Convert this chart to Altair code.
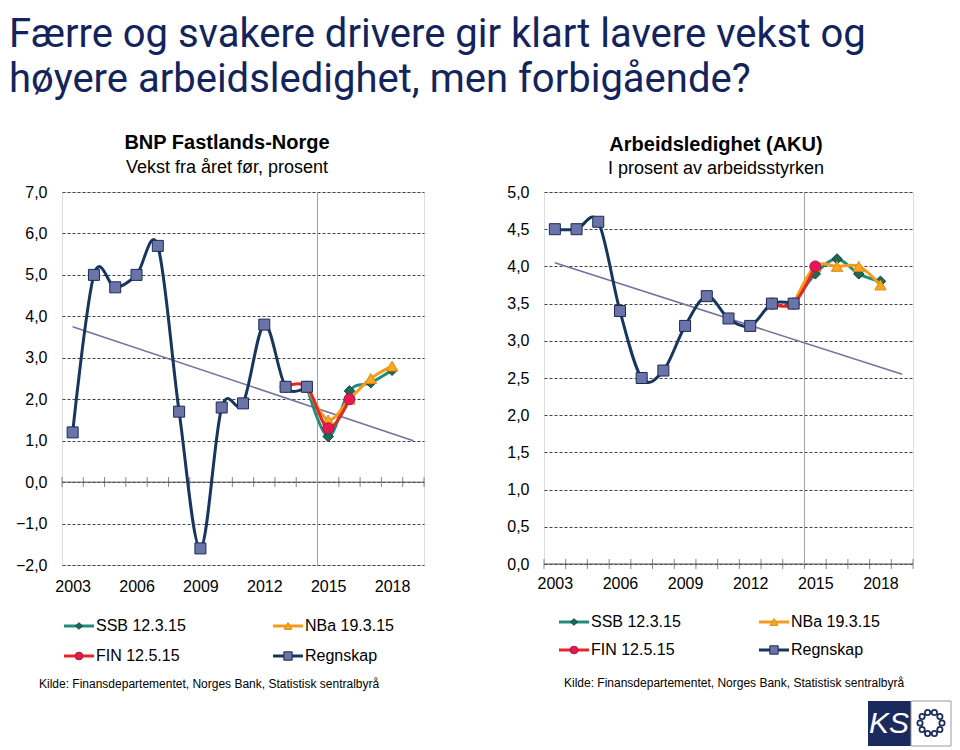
import math
import altair as alt
import pandas as pd

# ---------------- data ----------------
years_hist = [2003, 2004, 2005, 2006, 2007, 2008, 2009, 2010, 2011, 2012, 2013, 2014]
bnp_regnskap = [1.2, 5.0, 4.7, 5.0, 5.7, 1.7, -1.6, 1.8, 1.9, 3.8, 2.3, 2.3]
aku_regnskap = [4.5, 4.5, 4.6, 3.4, 2.5, 2.6, 3.2, 3.6, 3.3, 3.2, 3.5, 3.5]

years_ssb = [2014, 2015, 2016, 2017, 2018]
bnp_ssb = [2.3, 1.1, 2.2, 2.4, 2.7]
aku_ssb = [3.5, 3.9, 4.1, 3.9, 3.8]

years_nba = [2014, 2015, 2016, 2017, 2018]
bnp_nba = [2.3, 1.5, 2.0, 2.5, 2.8]
aku_nba = [3.5, 4.0, 4.0, 4.0, 3.75]

years_fin = [2013, 2014, 2015, 2016]
bnp_fin = [2.3, 2.3, 1.3, 2.0]
years_fin_aku = [2013, 2014, 2015]
aku_fin = [3.5, 3.5, 4.0]

trend_years = [2003, 2019]
bnp_trend = [3.75, 1.0]
aku_trend = [4.05, 2.55]

x_label_years = [2003, 2006, 2009, 2012, 2015, 2018]
bnp_ticks = [-2, -1, 0, 1, 2, 3, 4, 5, 6, 7]
aku_ticks = [0, 0.5, 1.0, 1.5, 2.0, 2.5, 3.0, 3.5, 4.0, 4.5, 5.0]

main_title = ["Færre og svakere drivere gir klart lavere vekst og",
              "høyere arbeidsledighet, men forbigående?"]
legend_labels = ["SSB 12.3.15", "NBa 19.3.15", "FIN 12.5.15", "Regnskap"]
source_text = "Kilde: Finansdepartementet,  Norges Bank, Statistisk sentralbyrå"

# ---------------- styles ----------------
FONT = "Liberation Sans"
C_REG, C_REG_FILL, C_REG_STROKE = "#17365d", "#6b74a8", "#1a2b55"
C_SSB, C_SSB_FILL, C_SSB_STROKE = "#1f8c7c", "#1e6a52", "#123d30"
C_NBA, C_NBA_FILL, C_NBA_STROKE = "#f59b1c", "#f7a81e", "#e08a10"
C_FIN, C_FIN_FILL, C_FIN_STROKE = "#e82424", "#e8174c", "#9e1a5a"
C_TREND = "#7272a0"
C_TITLE = "#13245c"

XDOM = [2002.5, 2019.5]
one_row = pd.DataFrame({"k": [0]})


def xaxis(pad):
    return alt.Axis(values=x_label_years, format="d", grid=False, domain=False,
                    ticks=False, labelFontSize=16, labelPadding=pad,
                    labelColor="black", labelFont=FONT, title=None)


def yaxis(ticks):
    return alt.Axis(values=ticks, labelExpr="replace(format(datum.value, '.1f'), '.', ',')",
                    grid=True, gridDash=[3, 2], gridColor="#444", gridWidth=1,
                    domain=False, ticks=False, labelPadding=15, labelFontSize=16,
                    labelColor="black", labelFont=FONT, title=None)


def panel(series, ydom, yticks, width, height, xpad, heads, leg, src_pos, extra=None):
    xs = alt.Scale(domain=XDOM, nice=False, zero=False)
    ys = alt.Scale(domain=ydom, nice=False, zero=False)
    X = alt.X("year:Q", scale=xs, axis=xaxis(xpad))
    Y = alt.Y("value:Q", scale=ys, axis=yaxis(yticks))
    layers = []

    # zero axis line with category tick marks
    layers.append(alt.Chart(one_row).mark_rule(color="#555", strokeWidth=1).encode(
        x=alt.XDatum(XDOM[0], type="quantitative", scale=xs, axis=xaxis(xpad)),
        x2=alt.X2Datum(XDOM[1]),
        y=alt.YDatum(0, type="quantitative", scale=ys, axis=yaxis(yticks))))
    bounds = pd.DataFrame({"year": [XDOM[0] + i for i in range(18)], "value": 0})
    layers.append(alt.Chart(bounds).mark_tick(orient="vertical", size=10, thickness=1,
                                              color="#555").encode(x=X, y=Y))
    # forecast divider
    layers.append(alt.Chart(one_row).mark_rule(color="#a0a0a0", strokeWidth=1).encode(
        x=alt.XDatum(2014.5, type="quantitative", scale=xs, axis=xaxis(xpad))))

    # trend
    tr = pd.DataFrame({"year": trend_years, "value": series["trend"]})
    layers.append(alt.Chart(tr).mark_line(color=C_TREND, strokeWidth=1.5).encode(x=X, y=Y))

    specs = [
        ("ssb", C_SSB, C_SSB_FILL, C_SSB_STROKE, "diamond", 110),
        ("nba", C_NBA, C_NBA_FILL, C_NBA_STROKE, "triangle-up", 130),
        ("fin", C_FIN, C_FIN_FILL, C_FIN_STROKE, "circle", 120),
        ("reg", C_REG, C_REG_FILL, C_REG_STROKE, "square", 121),
    ]
    for key, lc, fc, sc, shape, size in specs:
        yrs, vals = series[key]
        df = pd.DataFrame({"year": yrs, "value": vals})
        layers.append(alt.Chart(df).mark_line(color=lc, strokeWidth=3,
                                              interpolate="cardinal").encode(x=X, y=Y))
        layers.append(alt.Chart(df).mark_point(shape=shape, size=size, filled=True,
                                               fill=fc, stroke=sc, strokeWidth=1,
                                               opacity=1).encode(x=X, y=Y))

    # panel headings
    (hx, hy1, hy2, t1, t2) = heads
    layers.append(alt.Chart(one_row).mark_text(font=FONT, fontSize=20, fontWeight="bold",
                                               color="black", align="center",
                                               baseline="alphabetic").encode(
        x=alt.value(hx), y=alt.value(hy1), text=alt.value(t1)))
    layers.append(alt.Chart(one_row).mark_text(font=FONT, fontSize=18, color="black",
                                               align="center", baseline="alphabetic").encode(
        x=alt.value(hx), y=alt.value(hy2), text=alt.value(t2)))

    # legend
    (c1, c2, r1, r2, sw) = leg
    items = [
        (legend_labels[0], c1, r1, C_SSB, C_SSB_FILL, C_SSB_STROKE, "diamond", 45),
        (legend_labels[1], c2, r1, C_NBA, C_NBA_FILL, C_NBA_STROKE, "triangle-up", 60),
        (legend_labels[2], c1, r2, C_FIN, C_FIN_FILL, C_FIN_STROKE, "circle", 60),
        (legend_labels[3], c2, r2, C_REG, C_REG_FILL, C_REG_STROKE, "square", 70),
    ]
    for lab, cx, cy, lc, fc, sc, shape, size in items:
        layers.append(alt.Chart(one_row).mark_rule(color=lc, strokeWidth=3).encode(
            x=alt.value(cx), x2=alt.value(cx + sw), y=alt.value(cy)))
        layers.append(alt.Chart(one_row).mark_point(shape=shape, size=size, filled=True,
                                                    fill=fc, stroke=sc, strokeWidth=1,
                                                    opacity=1).encode(
            x=alt.value(cx + sw / 2), y=alt.value(cy)))
        layers.append(alt.Chart(one_row).mark_text(font=FONT, fontSize=16, color="black",
                                                   align="left", baseline="middle").encode(
            x=alt.value(cx + sw + 2), y=alt.value(cy), text=alt.value(lab)))
    sx, sy = src_pos
    layers.append(alt.Chart(one_row).mark_text(font=FONT, fontSize=12, color="black",
                                               align="left", baseline="middle").encode(
        x=alt.value(sx), y=alt.value(sy), text=alt.value(source_text)))

    if extra:
        layers.extend(extra)
    return alt.layer(*layers).properties(width=width, height=height)


# main title (placed in the left panel, above the plot)
title_layers = []
for i, line in enumerate(main_title):
    title_layers.append(alt.Chart(one_row).mark_text(font="Roboto", fontSize=40, color=C_TITLE,
                                                     align="left", baseline="alphabetic").encode(
        x=alt.value(-53), y=alt.value(-145 + 45 * i), text=alt.value(line)))

# KS logo (right panel, bottom right)
logo = []
logo.append(alt.Chart(one_row).mark_rect(color="#1b2a5c").encode(
    x=alt.value(324), x2=alt.value(367), y=alt.value(509), y2=alt.value(554)))
logo.append(alt.Chart(one_row).mark_rect(fill="white", stroke="#9a9a9a", strokeWidth=1).encode(
    x=alt.value(367), x2=alt.value(407), y=alt.value(509), y2=alt.value(554)))
logo.append(alt.Chart(one_row).mark_text(font="Liberation Sans", fontSize=30, fontStyle="italic",
                                         color="white", align="center", baseline="middle").encode(
    x=alt.value(345), y=alt.value(532), text=alt.value("KS")))
for i in range(10):
    a = 2 * math.pi * i / 10
    logo.append(alt.Chart(one_row).mark_point(shape="circle", size=28, filled=False,
                                              stroke="#1b2a5c", strokeWidth=1.8, opacity=1).encode(
        x=alt.value(387 + 11 * math.cos(a)), y=alt.value(531 + 11 * math.sin(a))))

left = panel(
    {"trend": bnp_trend, "ssb": (years_ssb, bnp_ssb), "nba": (years_nba, bnp_nba),
     "fin": (years_fin, bnp_fin), "reg": (years_hist, bnp_regnskap)},
    [-2, 7], bnp_ticks, 362, 373, 13,
    (165, -43, -19, "BNP Fastlands-Norge", "Vekst fra året før, prosent"),
    (2, 211, 434, 464, 30), (-23, 492), extra=title_layers)

right = panel(
    {"trend": aku_trend, "ssb": (years_ssb, aku_ssb), "nba": (years_nba, aku_nba),
     "fin": (years_fin_aku, aku_fin), "reg": (years_hist, aku_regnskap)},
    [0, 5], aku_ticks, 369, 372, 11,
    (172, -41, -18, "Arbeidsledighet (AKU)", "I prosent av arbeidsstyrken"),
    (15, 215, 430, 458, 30), (20, 491), extra=logo)

chart = alt.hconcat(left, right, spacing=120, bounds="flush").properties(
    padding={"top": 6, "left": 0, "right": 0, "bottom": 0}
).configure_view(strokeWidth=0).configure(font=FONT)

chart.save("out.html", embed_options={"renderer": "svg", "actions": False})
